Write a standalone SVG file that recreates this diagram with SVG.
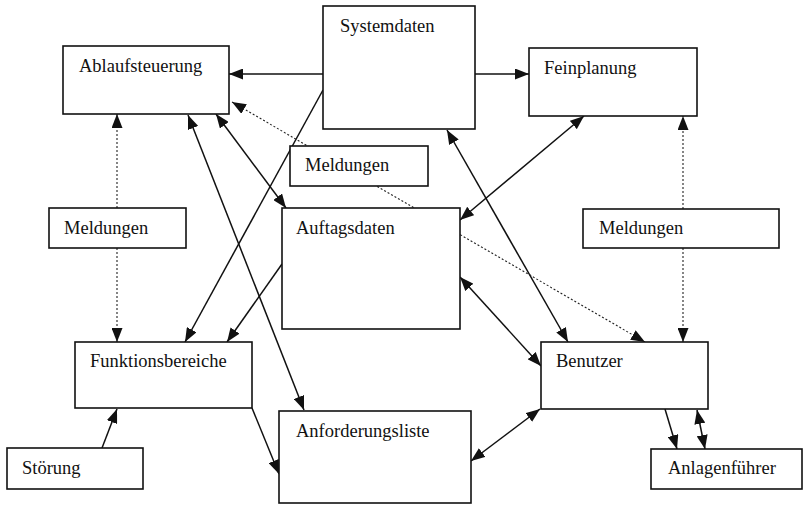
<svg xmlns="http://www.w3.org/2000/svg" width="804" height="505" viewBox="0 0 804 505">
  <style>
    .box { fill: #fff; stroke: #111; stroke-width: 1.6; }
    .lbl { font-family: "Liberation Serif", "Times New Roman", serif; font-size: 18.5px; fill: #111; }
    .solid { fill: none; stroke: #111; stroke-width: 1.5; }
    .dot { fill: none; stroke: #222; stroke-width: 1.1; stroke-dasharray: 2 2; }
  </style>
  <defs>
    <marker id="ah" viewBox="0 0 14 11" refX="14" refY="5.5" markerWidth="14" markerHeight="11" markerUnits="userSpaceOnUse" orient="auto-start-reverse">
      <path d="M0,0 L14,5.5 L0,11 Z" fill="#111"/>
    </marker>
  </defs>
  <rect width="804" height="505" fill="#fff"/>

  <g id="connectors">
    <!-- solid links -->
    <line class="solid" x1="323" y1="74" x2="229" y2="74" marker-end="url(#ah)"/>
    <line class="solid" x1="475" y1="74" x2="529" y2="74" marker-end="url(#ah)"/>
    <line class="solid" x1="323" y1="90" x2="185" y2="342" marker-end="url(#ah)"/>
    <line class="solid" x1="188" y1="115" x2="304" y2="410" marker-start="url(#ah)" marker-end="url(#ah)"/>
    <line class="solid" x1="216" y1="114" x2="286" y2="208" marker-start="url(#ah)" marker-end="url(#ah)"/>
    <line class="solid" x1="282" y1="264" x2="227" y2="342" marker-end="url(#ah)"/>
    <line class="solid" x1="584" y1="116" x2="460" y2="220" marker-start="url(#ah)" marker-end="url(#ah)"/>
    <line class="solid" x1="447" y1="130" x2="568" y2="342" marker-start="url(#ah)" marker-end="url(#ah)"/>
    <line class="solid" x1="460" y1="277" x2="541" y2="366" marker-start="url(#ah)" marker-end="url(#ah)"/>
    <line class="solid" x1="471" y1="461" x2="540" y2="409" marker-start="url(#ah)" marker-end="url(#ah)"/>
    <line class="solid" x1="252" y1="408" x2="279" y2="474" marker-end="url(#ah)"/>
    <line class="solid" x1="102" y1="448" x2="117" y2="409" marker-end="url(#ah)"/>
    <line class="solid" x1="665" y1="409" x2="677" y2="449" marker-end="url(#ah)"/>
    <line class="solid" x1="697" y1="410" x2="705" y2="449" marker-start="url(#ah)" marker-end="url(#ah)"/>
    <!-- dotted message links -->
    <line class="dot" x1="232" y1="102" x2="645" y2="342" marker-start="url(#ah)" marker-end="url(#ah)"/>
    <line class="dot" x1="117" y1="208" x2="117" y2="114" marker-end="url(#ah)"/>
    <line class="dot" x1="117" y1="248" x2="117" y2="342" marker-end="url(#ah)"/>
    <line class="dot" x1="683" y1="209" x2="683" y2="116" marker-end="url(#ah)"/>
    <line class="dot" x1="683" y1="248" x2="683" y2="342" marker-end="url(#ah)"/>
  </g>

  <g id="systemdaten">
    <rect class="box" x="323" y="6" width="152" height="123"/>
    <text class="lbl" x="340" y="32">Systemdaten</text>
  </g>
  <g id="ablaufsteuerung">
    <rect class="box" x="63" y="46" width="166" height="68"/>
    <text class="lbl" x="79" y="72">Ablaufsteuerung</text>
  </g>
  <g id="feinplanung">
    <rect class="box" x="529" y="48" width="168" height="68"/>
    <text class="lbl" x="544" y="74">Feinplanung</text>
  </g>
  <g id="meldungen-mitte">
    <rect class="box" x="290" y="146" width="138" height="40"/>
    <text class="lbl" x="305" y="171">Meldungen</text>
  </g>
  <g id="meldungen-links">
    <rect class="box" x="49" y="208" width="137" height="40"/>
    <text class="lbl" x="64" y="234">Meldungen</text>
  </g>
  <g id="auftagsdaten">
    <rect class="box" x="282" y="208" width="178" height="121"/>
    <text class="lbl" x="296" y="234">Auftagsdaten</text>
  </g>
  <g id="meldungen-rechts">
    <rect class="box" x="583" y="209" width="196" height="39"/>
    <text class="lbl" x="599" y="234">Meldungen</text>
  </g>
  <g id="funktionsbereiche">
    <rect class="box" x="75" y="342" width="177" height="66"/>
    <text class="lbl" x="90" y="367">Funktionsbereiche</text>
  </g>
  <g id="benutzer">
    <rect class="box" x="541" y="342" width="167" height="67"/>
    <text class="lbl" x="556" y="367">Benutzer</text>
  </g>
  <g id="anforderungsliste">
    <rect class="box" x="279" y="411" width="192" height="92"/>
    <text class="lbl" x="296" y="437">Anforderungsliste</text>
  </g>
  <g id="stoerung">
    <rect class="box" x="7" y="448" width="136" height="41"/>
    <text class="lbl" x="22" y="474">Störung</text>
  </g>
  <g id="anlagenfuehrer">
    <rect class="box" x="651" y="449" width="151" height="40"/>
    <text class="lbl" x="668" y="474">Anlagenführer</text>
  </g>
</svg>
